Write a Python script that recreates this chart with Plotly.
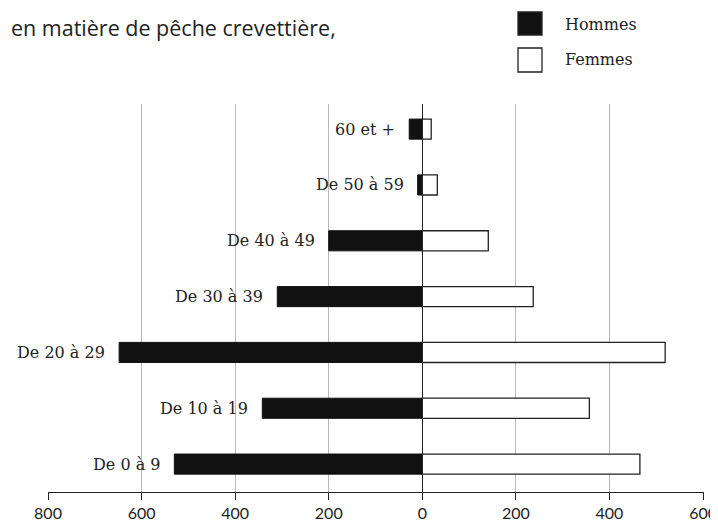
import plotly.graph_objects as go

categories = ["De 0 à 9", "De 10 à 19", "De 20 à 29", "De 30 à 39",
              "De 40 à 49", "De 50 à 59", "60 et +"]
hommes = [530, 342, 648, 310, 200, 10, 28]
femmes = [465, 357, 519, 237, 141, 32, 19]
tick_vals = [-800, -600, -400, -200, 0, 200, 400, 600]
tick_text = ["800", "600", "400", "200", "0", "200", "400", "600"]

fig = go.Figure()
fig.add_trace(go.Bar(
    y=categories, x=[-v for v in hommes], orientation="h", name="Hommes",
    marker=dict(color="#111111", line=dict(color="#111111", width=1)),
    width=0.36, showlegend=False, hoverinfo="skip"))
fig.add_trace(go.Bar(
    y=categories, x=femmes, orientation="h", name="Femmes",
    marker=dict(color="white", line=dict(color="#222222", width=1.3)),
    width=0.36, showlegend=False, hoverinfo="skip"))

label_font = dict(family="DejaVu Serif", size=16, color="#222222")
annotations = []
for cat, h in zip(categories, hommes):
    annotations.append(dict(x=-h, y=cat, xref="x", yref="y", text=cat,
                            showarrow=False, xanchor="right", yanchor="middle",
                            xshift=-12, font=label_font))

# the page body adds an 8px offset; the figure is laid out in screen pixels
OFF = 8
W, H = 718 - OFF, 525 - OFF
ml, mr, mt, mb = 40, 14, 96, 33
pw, ph = W - ml - mr, H - mt - mb


def px2paper(sx, sy):
    x, y = sx - OFF, sy - OFF
    return (x - ml) / pw, (H - mb - y) / ph


paper_texts = [
    (563, 24, "Hommes", label_font),
    (563, 60, "Femmes", label_font),
    (9, 27, "en matière de pêche crevettière,",
     dict(family="Open Sans", size=21.5, color="#222222")),
]
for sx, sy, txt, fnt in paper_texts:
    px, py = px2paper(sx, sy)
    annotations.append(dict(x=px, y=py, xref="paper", yref="paper", text=txt,
                            showarrow=False, xanchor="left", yanchor="middle",
                            font=fnt))

shapes = []
for (x0, y0, x1, y1, fill) in [(518, 12, 542, 35, "#111111"), (518, 48, 542, 72, "white")]:
    px0, py0 = px2paper(x0, y0)
    px1, py1 = px2paper(x1, y1)
    shapes.append(dict(type="rect", xref="paper", yref="paper", x0=px0, x1=px1,
                       y0=py1, y1=py0, fillcolor=fill,
                       line=dict(color="#222222", width=1.3)))

fig.update_layout(
    width=W, height=H, margin=dict(l=ml, r=mr, t=mt, b=mb, autoexpand=False),
    paper_bgcolor="white", plot_bgcolor="white",
    barmode="relative",
    annotations=annotations, shapes=shapes,
    xaxis=dict(range=[-800, 602], tickvals=tick_vals, ticktext=tick_text,
               automargin=False,
               showgrid=True, gridcolor="#b8b8b8", gridwidth=1,
               zeroline=True, zerolinecolor="#222222", zerolinewidth=1.2,
               showline=True, linecolor="#222222", linewidth=1.2,
               ticks="outside", ticklen=7, tickcolor="#222222",
               ticklabelstandoff=0,
               tickfont=dict(family="Lato", size=16, color="#222222"),
               fixedrange=True),
    yaxis=dict(categoryorder="array", categoryarray=categories,
               range=[-0.5, 6.45], showticklabels=False, showgrid=False,
               zeroline=False, showline=False, fixedrange=True,
               automargin=False),
)

fig.write_html("out.html")
